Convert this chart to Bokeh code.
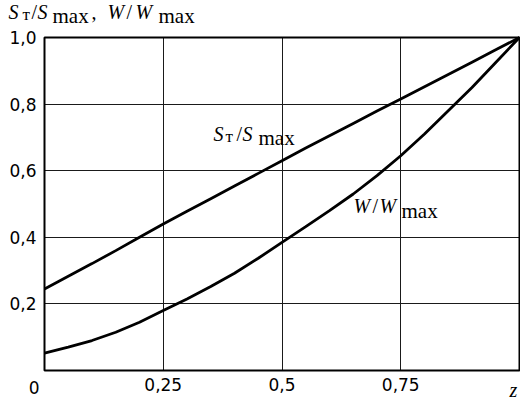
from bokeh.plotting import figure
from bokeh.models import Range1d, FixedTicker, Label, BoxAnnotation
from bokeh.embed import file_html
from bokeh.resources import INLINE

# data
z = [0.0, 0.05, 0.1, 0.15, 0.2, 0.25, 0.3, 0.35, 0.4, 0.45, 0.5,
     0.55, 0.6, 0.65, 0.7, 0.75, 0.8, 0.85, 0.9, 0.95, 1.0]
s_ratio = [0.245, 0.283, 0.321, 0.36, 0.40, 0.44, 0.478, 0.516, 0.554, 0.592, 0.63,
           0.668, 0.705, 0.742, 0.779, 0.815, 0.852, 0.889, 0.926, 0.963, 1.0]
w_ratio = [0.052, 0.07, 0.09, 0.115, 0.145, 0.18, 0.215, 0.252, 0.292, 0.337, 0.385,
           0.432, 0.48, 0.53, 0.585, 0.645, 0.71, 0.78, 0.85, 0.925, 1.0]
x_ticks = [0.0, 0.25, 0.5, 0.75]
x_tick_labels = ["", "0,25", "0,5", "0,75"]
y_ticks = [0.2, 0.4, 0.6, 0.8, 1.0]
y_tick_labels = ["0,2", "0,4", "0,6", "0,8", "1,0"]

SERIF = "Liberation Serif"
SANS = "DejaVu Sans"

W, H = 520, 404
# plot box in canvas pixels
BL, BR, BT, BB = 44, 519, 37, 370
SX = (BR - BL)
SY = (BB - BT)
DY = 6  # label baseline compensation (px)


def px(x):
    return (x - BL) / SX


def py(y):
    return (BB - y) / SY


p = figure(width=W, height=H, output_backend="svg", toolbar_location=None,
           x_range=Range1d(px(0), px(W)), y_range=Range1d(py(H), py(0)),
           min_border=0)
p.background_fill_color = "white"
p.border_fill_color = "white"
p.outline_line_color = None

p.xaxis.fixed_location = 0
p.yaxis.fixed_location = 0
p.xaxis.ticker = FixedTicker(ticks=x_ticks)
p.yaxis.ticker = FixedTicker(ticks=y_ticks)
p.xaxis.major_label_overrides = {t: l for t, l in zip(x_ticks, x_tick_labels)}
p.yaxis.major_label_overrides = {t: l for t, l in zip(y_ticks, y_tick_labels)}
for ax in (p.xaxis, p.yaxis):
    ax.axis_line_color = None
    ax.major_tick_in = 0
    ax.major_tick_out = 0
    ax.minor_tick_line_color = None
    ax.major_label_text_font = SANS
    ax.major_label_text_font_size = "17px"
    ax.major_label_text_color = "black"
p.xaxis.major_label_standoff = 7
p.yaxis.major_label_standoff = 8

p.xgrid.ticker = FixedTicker(ticks=[0.25, 0.5, 0.75])
p.ygrid.ticker = FixedTicker(ticks=[0.2, 0.4, 0.6, 0.8])
for g in (p.xgrid, p.ygrid):
    g.bounds = (0, 1)
    g.cross_bounds = (0, 1)
    g.grid_line_color = "#1a1a1a"
    g.grid_line_width = 1

p.add_layout(BoxAnnotation(left=0, right=1, bottom=0, top=1, fill_alpha=0,
                           line_color="black", line_width=2, line_alpha=1))

p.line(z, s_ratio, line_color="black", line_width=2.8)
p.line(z, w_ratio, line_color="black", line_width=2.8)


def piece(x, y, text, size=20, style="normal", font=SERIF, align="left"):
    p.add_layout(Label(x=px(x), y=py(y - DY), text=text,
                       text_font=font, text_font_size=f"{size}px",
                       text_font_style=style, text_color="black",
                       text_align=align, text_baseline="alphabetic"))


# axis title (top-left)
piece(8, 17, "S", style="italic")
piece(22, 20, "т", size=17)
piece(31, 17, "/")
piece(37, 17, "S", style="italic")
piece(52, 21, "max", size=21)
piece(91, 17, ",")
piece(107, 17, "W", style="italic")
piece(126, 17, "/")
piece(135, 17, "W", style="italic")
piece(158, 21, "max", size=21)

# curve labels
piece(213, 139, "S", style="italic")
piece(225, 142, "т", size=17)
piece(236, 139, "/")
piece(242, 139, "S", style="italic")
piece(258, 143, "max", size=21)

piece(353, 211, "W", style="italic")
piece(372, 211, "/")
piece(379, 211, "W", style="italic")
piece(401, 216, "max", size=21)

# axis variable and origin label
piece(509, 395, "z", style="italic")
piece(39, 393, "0", size=17, font=SANS, align="right")

open("out.html", "w").write(file_html(p, INLINE))
